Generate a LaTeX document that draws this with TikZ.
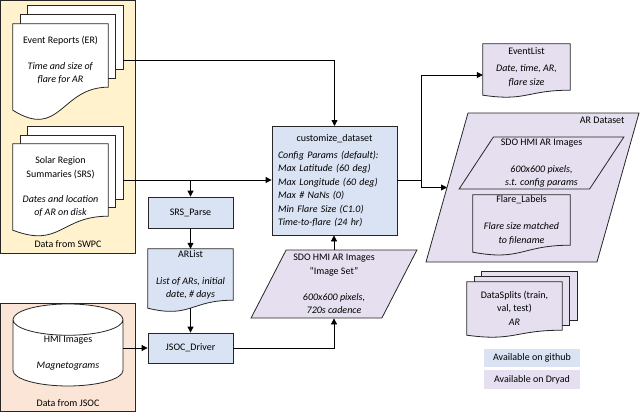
\documentclass[tikz,border=0pt]{standalone}
\usepackage{fontspec}
\setmainfont{Carlito}
\usetikzlibrary{shapes.geometric,arrows.meta}

\definecolor{gitblue}{HTML}{DAE3F3}
\definecolor{dryad}{HTML}{E5DFF0}
\definecolor{swpcyel}{HTML}{FFF2CC}
\definecolor{jsocpink}{HTML}{FBE5D6}

\pgfdeclarelayer{frame}
\pgfdeclarelayer{sheets}
\pgfsetlayers{frame,sheets,main}

\tikzset{
    every node/.style={font=\fontsize{10}{13.5}\selectfont},
    outline/.style={draw=black!85, line width=0.8pt},
    proc/.style={outline, fill=gitblue, rectangle, inner sep=0pt},
    doctext/.style={rectangle, inner sep=0pt, align=center},
    dataset/.style={outline, fill=dryad, trapezium, trapezium stretches=true,
        inner sep=0pt, align=center},
    arr/.style={-{Triangle[length=6pt,width=6pt]}, line width=0.8pt},
}

\begin{document}
\begin{tikzpicture}[x=1pt, y=-1pt]
    \useasboundingbox (0,0) rectangle (640,412);

    % Outline of a document under a text node.
    % #1 ... node, #2 ... how far the left end drops, #3 ... how far the right end rises, #4 ... fill
    \def\docwave#1#2#3#4{
        \begin{pgfonlayer}{sheets}
        \draw[outline, fill=#4] (#1.north west) -- (#1.north east) -- ([yshift=#3pt]#1.south east)
            .. controls ([yshift=#3pt]#1.south) and ([yshift={-#2pt-1.3*(#2pt+#3pt)}]#1.south)
            .. ([yshift=-#2pt]#1.south west) -- cycle;
        \end{pgfonlayer}
    }
    % The two sheets behind a multi-document.
    % #1 ... node, #2 ... x offset, #3 ... y offset, #4 ... rise of the right end, #5 ... fill
    \def\backsheets#1#2#3#4#5{
        \begin{pgfonlayer}{sheets}
        \foreach \k in {2,1} {
            \draw[outline, fill=#5] ([xshift=\k*#2pt, yshift=\k*#3pt]#1.north west)
                rectangle ([xshift=\k*#2pt, yshift={\k*#3pt+#4pt}]#1.south east);
            }
        \end{pgfonlayer}
    }

    % Source boxes and the dataset frame
    \begin{pgfonlayer}{frame}
        \draw[outline, fill=swpcyel] (0,0) rectangle (135,253);
        \draw[outline, fill=jsocpink] (0,303) rectangle (135,411);
        \draw[outline, fill=dryad] (426,262) -- (468,113) -- (639,113) -- (597,262) -- cycle;
    \end{pgfonlayer}
    \coordinate (ardsin) at (447,187.5);
    \node[anchor=east] (ardslbl) at (628,120.5) {AR Dataset};
    \node (swpclbl) at (68,244) {Data from SWPC};
    \node (jsoclbl) at (68,403) {Data from JSOC};

    % Data from SWPC
    \node[doctext, minimum width=95pt, minimum height=72pt] (er) at (60.5,60)
        {Event Reports (ER)\\[12pt]\textit{Time and size of}\\\textit{flare for AR}};
    \backsheets{er}{7.5}{9}{9}{white}
    \docwave{er}{14}{9}{white}

    \node[doctext, minimum width=95pt, minimum height=86pt] (srs) at (60.5,187)
        {Solar Region\\Summaries (SRS)\\[11.5pt]\textit{Dates and location}\\\textit{of AR on disk}};
    \backsheets{srs}{7.5}{8.5}{14}{white}
    \docwave{srs}{0}{14}{white}

    % Data from JSOC
    \node[outline, fill=white, cylinder, shape border rotate=90, shape aspect=0.5,
        minimum width=110pt, minimum height=82pt, inner sep=0pt, align=center]
        (hmi) at (68,353) {HMI Images\\[12pt]\textit{Magnetograms}};

    % Code
    \node[proc, minimum width=85pt, minimum height=31pt] (parse) at (190.5,212.5) {SRS\_Parse};
    \node[doctext, minimum width=85pt, minimum height=52pt] (arl) at (190.5,275)
        {ARList\\[13.5pt]\textit{List of ARs, initial}\\\textit{date, \# days}};
    \docwave{arl}{7}{1}{gitblue}
    \node[proc, minimum width=85pt, minimum height=30pt] (jsoc) at (190.5,348) {JSOC\_Driver};
    \node[proc, minimum width=125pt, minimum height=109pt, text width=113pt, align=left]
        (custom) at (334.5,180.5)
        {\makebox[113pt]{customize\_dataset}\\[3.5pt]
         \textit{Config Params (default):}\\
         \textit{Max Latitude (60 deg)}\\
         \textit{Max Longitude (60 deg)}\\
         \textit{Max \# NaNs (0)}\\
         \textit{Min Flare Size (C1.0)}\\
         \textit{Time-to-flare (24 hr)}};
    \node[dataset, trapezium left angle=63.4, trapezium right angle=116.6,
        minimum width=166pt, minimum height=68pt] (imgset) at (334,284)
        {SDO HMI AR Images\\“Image Set”\\[12.5pt]\textit{600x600 pixels,}\\\textit{720s cadence}};

    % Outputs
    \node[doctext, minimum width=87pt, minimum height=46pt] (evl) at (526.5,67)
        {EventList\\[3.5pt]\textit{Date, time, AR,}\\\textit{flare size}};
    \docwave{evl}{5}{0}{dryad}
    \node[dataset, trapezium left angle=59.2, trapezium right angle=120.8,
        minimum width=165pt, minimum height=52pt] (arimg) at (541.5,163)
        {SDO HMI AR Images\\[13.5pt]\textit{600x600 pixels,}\\\textit{s.t. config params}};
    \node[doctext, minimum width=97pt, minimum height=50pt] (flare) at (521.5,220)
        {Flare\_Labels\\[13.5pt]\textit{Flare size matched}\\\textit{to filename}};
    \docwave{flare}{7}{0}{dryad}
    \node[doctext, minimum width=95pt, minimum height=52pt] (splits) at (514.5,308)
        {DataSplits (train,\\val, test)\\\textit{AR}};
    \backsheets{splits}{7.5}{5}{4}{dryad}
    \docwave{splits}{1}{4}{dryad}

    % Legend
    \node[fill=gitblue, minimum width=96pt, minimum height=18pt] (github) at (532,358) {Available on github};
    \node[fill=dryad, minimum width=96pt, minimum height=19pt] (dryadkey) at (532,379.5) {Available on Dryad};

    % Connectors
    \coordinate (erout) at (123,60);
    \coordinate (erbend) at (334.5,60);
    \coordinate (custin) at (334.5,126);
    \coordinate (srsout) at ([xshift=15pt, yshift=7pt]srs.east);
    \coordinate (fork) at ([xshift=24pt]custom.east);
    \draw[arr] (erout) -- (erbend) -- (custin);
    \draw[arr] (srsout) -- (srsout -| custom.west);
    \draw[arr] (srsout -| parse.north) -- (parse.north);
    \draw[arr] (parse) -- (arl);
    \draw[arr] ([yshift=-7pt]arl.south) -- (jsoc);
    \draw[arr] (hmi.east |- jsoc.west) -- (jsoc.west);
    \draw[arr] (jsoc.east) -| (imgset.center |- imgset.south);
    \draw[arr] (imgset.center |- imgset.north) -- (imgset.center |- custom.south);
    \draw[line width=0.8pt] (custom.east) -- (fork);
    \draw[arr] (fork) |- ([yshift=-8pt]evl.west);
    \draw[arr] (fork) |- (ardsin);
\end{tikzpicture}
\end{document}
